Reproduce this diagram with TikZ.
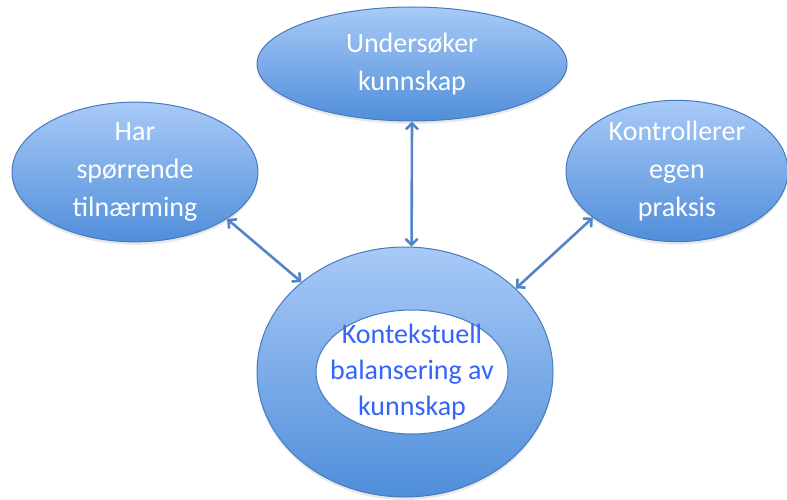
\documentclass[tikz,border=0pt]{standalone}
\usepackage{fontspec}
\setmainfont{Carlito}
\usepackage{tikz}
\usetikzlibrary{shapes.geometric,arrows.meta,shadows}
\definecolor{bubtop}{RGB}{168,202,247}
\definecolor{bubbot}{RGB}{80,142,218}
\definecolor{bubline}{RGB}{72,122,190}
\definecolor{linkcol}{RGB}{82,132,198}
\definecolor{coretext}{RGB}{52,100,250}
\begin{document}
\begin{tikzpicture}[x=1pt, y=-1pt]
  \tikzstyle{bub}=[ellipse, draw=bubline, line width=1pt, top color=bubtop, bottom color=bubbot, inner sep=0pt, align=center, text=white, font=\fontsize{28}{38}\selectfont, drop shadow={opacity=0.18, shadow xshift=0pt, shadow yshift=-3pt}]
  \tikzstyle{link}=[draw=linkcol, line width=2.6pt, {Straight Barb[length=6pt,width=12pt]}-{Straight Barb[length=6pt,width=12pt]}]
  \useasboundingbox (0,0) rectangle (787,500);
  \node[bub, minimum width=310pt, minimum height=114pt] (top) at (412,64) {Undersøker\\kunnskap};
  \node[bub, minimum width=246pt, minimum height=124pt] (left) at (135,172) {Har\\spørrende\\tilnærming};
  \node[bub, minimum width=222pt, minimum height=124pt] (right) at (677,171) {Kontrollerer\\egen\\praksis};
  \node[bub, minimum width=296pt, minimum height=250pt] (core) at (405,372) {};
  \node[ellipse, draw=bubline, line width=1pt, fill=white, minimum width=192pt, minimum height=124pt, inner sep=0pt] (hole) at (412,372) {};
  \node[align=center, text=coretext, font=\fontsize{28}{36}\selectfont] (coretxt) at (hole) {Kontekstuell\\balansering av\\kunnskap};
  \draw[link] (top.south) -- (core.87);
  \draw[link] (left.-27) -- (core.139);
  \draw[link] (right.209) -- (core.37);
\end{tikzpicture}
\end{document}
